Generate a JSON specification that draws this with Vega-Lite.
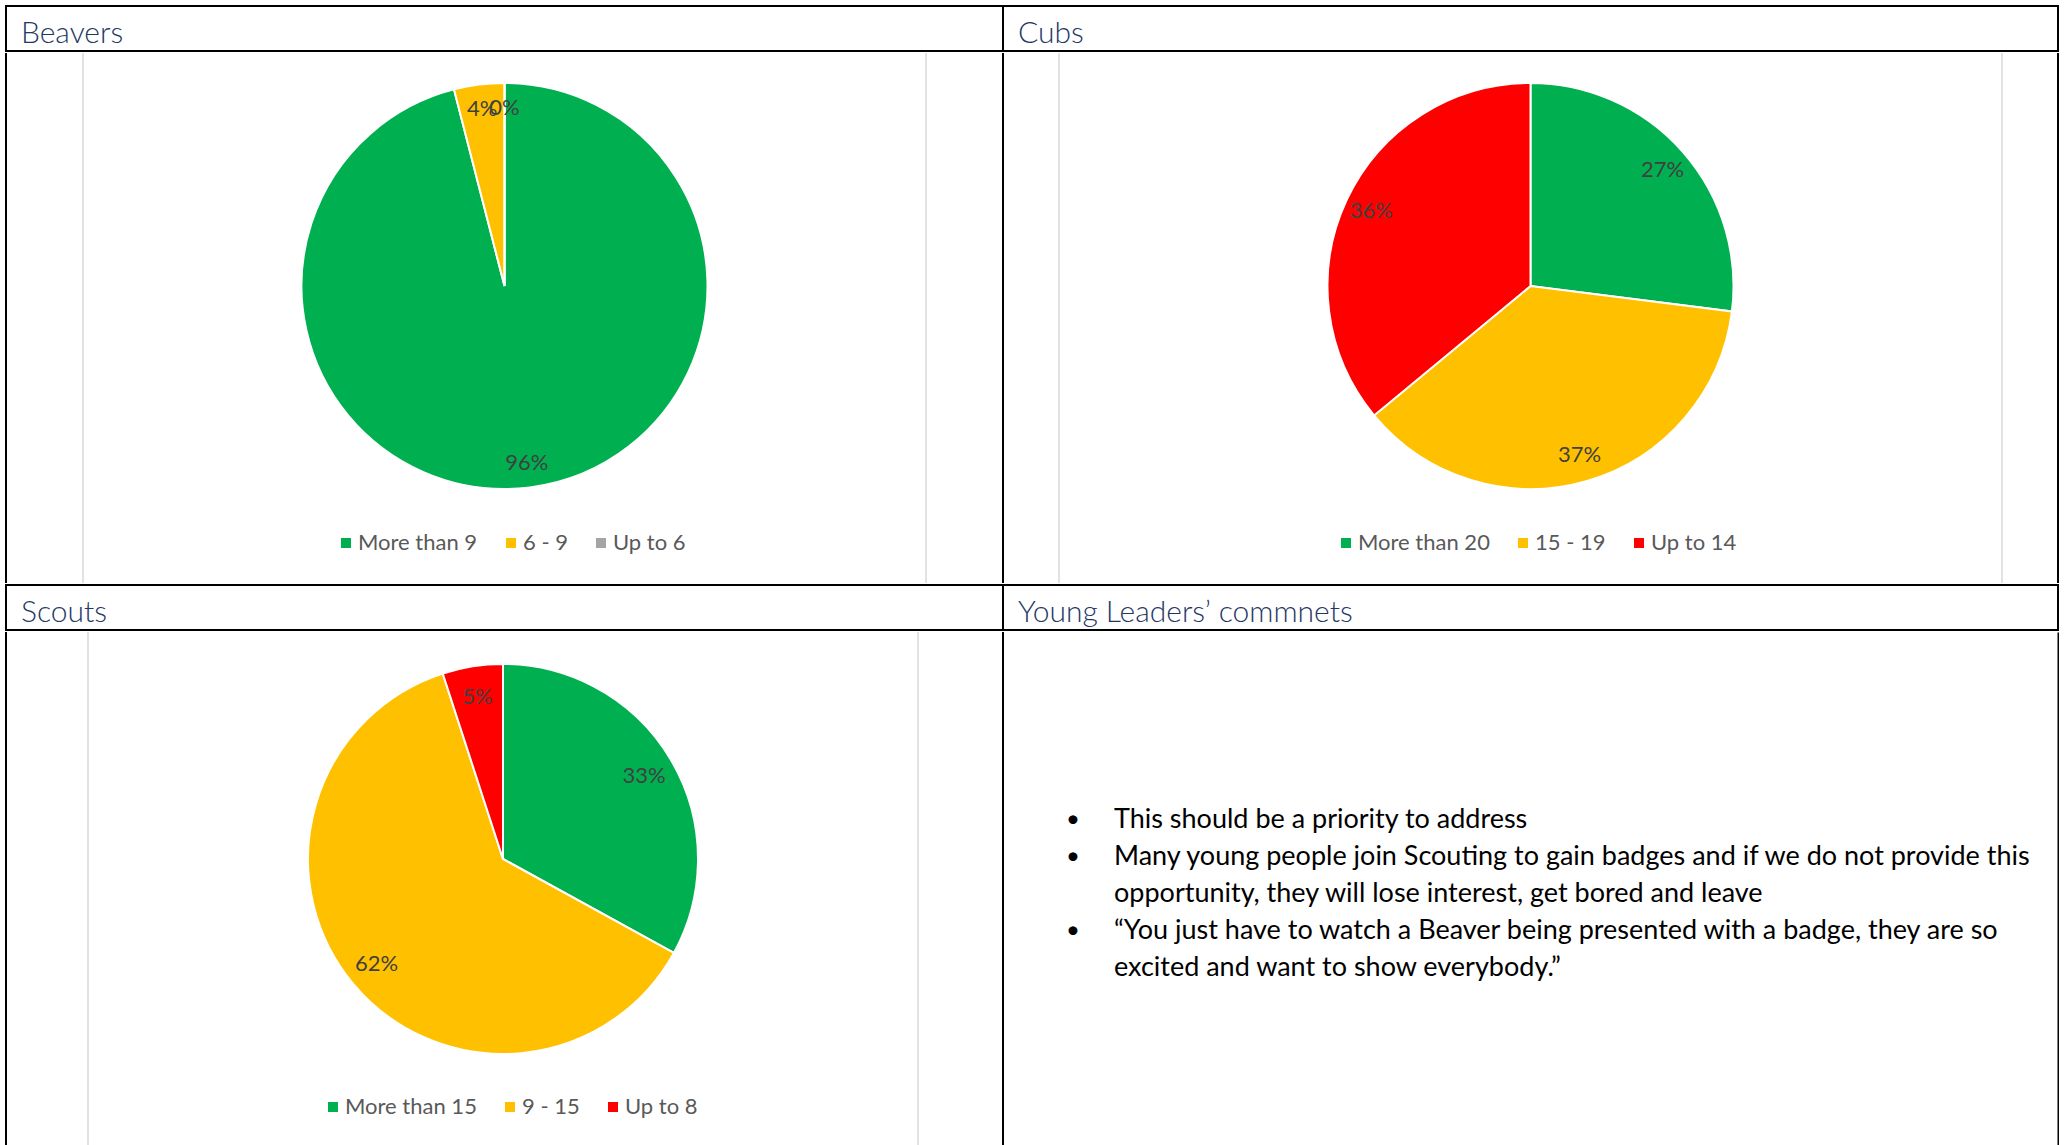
{
  "$schema": "https://vega.github.io/schema/vega-lite/v6.json",
  "padding": {"left": 5, "top": 5, "right": 0, "bottom": 0},
  "background": "#ffffff",
  "spacing": 0,
  "resolve": {"scale": {"color": "independent"}, "legend": {"color": "independent"}},
  "config": {
    "view": {"stroke": null},
    "font": "Lato",
    "legend": {"orient": "none", "direction": "horizontal", "title": null, "symbolType": "square", "symbolSize": 100, "symbolStrokeWidth": 0, "labelFontSize": 22, "labelColor": "#595959", "labelFont": "Lato", "columnPadding": 22, "labelOffset": 1, "padding": 0}
  },
  "vconcat": [
    {
      "hconcat": [
        {
          "width": 997, "height": 45,
          "view": {"stroke": "#000000", "strokeWidth": 2},
          "data": {"values": [{"header": "Beavers"}]},
          "mark": {"type": "text", "align": "left", "baseline": "middle", "dx": 15, "dy": 5, "fontWeight": 300, "fontSize": 30, "color": "#1F3864"},
          "encoding": {
            "x": {"field": "header", "type": "nominal", "scale": {"type": "point", "padding": 0, "align": 0}, "axis": null},
            "text": {"field": "header"}
          }
        },
        {
          "width": 1055, "height": 45,
          "view": {"stroke": "#000000", "strokeWidth": 2},
          "data": {"values": [{"header": "Cubs"}]},
          "mark": {"type": "text", "align": "left", "baseline": "middle", "dx": 15, "dy": 5, "fontWeight": 300, "fontSize": 30, "color": "#1F3864"},
          "encoding": {
            "x": {"field": "header", "type": "nominal", "scale": {"type": "point", "padding": 0, "align": 0}, "axis": null},
            "text": {"field": "header"}
          }
        }
      ],
      "spacing": 0, "bounds": "flush"
    },
    {
      "hconcat": [
        {
          "width": 77, "height": 530,
          "data": {"values": [{"edge": "outer"}, {"edge": "inner"}]},
          "mark": {"type": "rule"},
          "encoding": {
            "x": {"field": "edge", "type": "nominal", "sort": ["outer", "inner"], "scale": {"type": "point", "padding": 0}, "axis": null},
            "stroke": {"field": "edge", "type": "nominal", "scale": {"domain": ["outer", "inner"], "range": ["#000000", "#D9D9D9"]}, "legend": null},
            "strokeWidth": {"field": "edge", "type": "nominal", "scale": {"domain": ["outer", "inner"], "range": [2, 1.5]}, "legend": null}
          }
        },
        {
          "width": 843, "height": 466,
          "data": {"values": [
            {"band": "More than 9", "share": 0.96, "rank": 1},
            {"band": "6 - 9", "share": 0.04, "rank": 2},
            {"band": "Up to 6", "share": 0.0, "rank": 3}
          ]},
          "encoding": {
            "theta": {"field": "share", "type": "quantitative", "stack": true},
            "order": {"field": "rank"}
          },
          "layer": [
            {
              "mark": {"type": "arc", "outerRadius": 203, "stroke": "#ffffff", "strokeWidth": 2},
              "encoding": {
                "color": {"field": "band", "type": "nominal",
                  "scale": {"domain": ["More than 9", "6 - 9", "Up to 6"], "range": ["#00B050", "#FFC000", "#A5A5A5"]},
                  "legend": {"legendX": 252, "legendY": 479}}
              }
            },
            {
              "mark": {"type": "text", "radius": 178, "fontSize": 22, "color": "#404040"},
              "encoding": {"text": {"field": "share", "type": "quantitative", "format": ".0%"}}
            }
          ]
        },
        {
          "width": 77, "height": 530,
          "data": {"values": [{"edge": "inner"}, {"edge": "outer"}]},
          "mark": {"type": "rule"},
          "encoding": {
            "x": {"field": "edge", "type": "nominal", "sort": ["inner", "outer"], "scale": {"type": "point", "padding": 0}, "axis": null},
            "stroke": {"field": "edge", "type": "nominal", "scale": {"domain": ["outer", "inner"], "range": ["#000000", "#D9D9D9"]}, "legend": null},
            "strokeWidth": {"field": "edge", "type": "nominal", "scale": {"domain": ["outer", "inner"], "range": [2, 1.5]}, "legend": null}
          }
        },
        {
          "width": 56, "height": 530,
          "data": {"values": [{"edge": "outer"}, {"edge": "inner"}]},
          "mark": {"type": "rule"},
          "encoding": {
            "x": {"field": "edge", "type": "nominal", "sort": ["outer", "inner"], "scale": {"type": "point", "padding": 0}, "axis": null},
            "stroke": {"field": "edge", "type": "nominal", "scale": {"domain": ["outer", "inner"], "range": ["#000000", "#D9D9D9"]}, "legend": null},
            "strokeWidth": {"field": "edge", "type": "nominal", "scale": {"domain": ["outer", "inner"], "range": [2, 1.5]}, "legend": null}
          }
        },
        {
          "width": 943, "height": 466,
          "data": {"values": [
            {"band": "More than 20", "share": 0.27, "rank": 1},
            {"band": "15 - 19", "share": 0.37, "rank": 2},
            {"band": "Up to 14", "share": 0.36, "rank": 3}
          ]},
          "encoding": {
            "theta": {"field": "share", "type": "quantitative", "stack": true},
            "order": {"field": "rank"}
          },
          "layer": [
            {
              "mark": {"type": "arc", "outerRadius": 203, "stroke": "#ffffff", "strokeWidth": 2},
              "encoding": {
                "color": {"field": "band", "type": "nominal",
                  "scale": {"domain": ["More than 20", "15 - 19", "Up to 14"], "range": ["#00B050", "#FFC000", "#FF0000"]},
                  "legend": {"legendX": 276, "legendY": 479}}
              }
            },
            {
              "mark": {"type": "text", "radius": 176, "fontSize": 22, "color": "#404040"},
              "encoding": {"text": {"field": "share", "type": "quantitative", "format": ".0%"}}
            }
          ]
        },
        {
          "width": 56, "height": 530,
          "data": {"values": [{"edge": "inner"}, {"edge": "outer"}]},
          "mark": {"type": "rule"},
          "encoding": {
            "x": {"field": "edge", "type": "nominal", "sort": ["inner", "outer"], "scale": {"type": "point", "padding": 0}, "axis": null},
            "stroke": {"field": "edge", "type": "nominal", "scale": {"domain": ["outer", "inner"], "range": ["#000000", "#D9D9D9"]}, "legend": null},
            "strokeWidth": {"field": "edge", "type": "nominal", "scale": {"domain": ["outer", "inner"], "range": [2, 1.5]}, "legend": null}
          }
        }
      ],
      "spacing": 0, "bounds": "flush",
      "resolve": {"scale": {"color": "independent"}, "legend": {"color": "independent"}}
    },
    {
      "hconcat": [
        {
          "width": 997, "height": 45,
          "view": {"stroke": "#000000", "strokeWidth": 2},
          "data": {"values": [{"header": "Scouts"}]},
          "mark": {"type": "text", "align": "left", "baseline": "middle", "dx": 15, "dy": 5, "fontWeight": 300, "fontSize": 30, "color": "#1F3864"},
          "encoding": {
            "x": {"field": "header", "type": "nominal", "scale": {"type": "point", "padding": 0, "align": 0}, "axis": null},
            "text": {"field": "header"}
          }
        },
        {
          "width": 1055, "height": 45,
          "view": {"stroke": "#000000", "strokeWidth": 2},
          "data": {"values": [{"header": "Young Leaders’ commnets"}]},
          "mark": {"type": "text", "align": "left", "baseline": "middle", "dx": 15, "dy": 5, "fontWeight": 300, "fontSize": 30, "color": "#1F3864"},
          "encoding": {
            "x": {"field": "header", "type": "nominal", "scale": {"type": "point", "padding": 0, "align": 0}, "axis": null},
            "text": {"field": "header"}
          }
        }
      ],
      "spacing": 0, "bounds": "flush"
    },
    {
      "hconcat": [
        {
          "width": 82, "height": 514,
          "data": {"values": [{"edge": "outer"}, {"edge": "inner"}]},
          "mark": {"type": "rule"},
          "encoding": {
            "x": {"field": "edge", "type": "nominal", "sort": ["outer", "inner"], "scale": {"type": "point", "padding": 0}, "axis": null},
            "stroke": {"field": "edge", "type": "nominal", "scale": {"domain": ["outer", "inner"], "range": ["#000000", "#D9D9D9"]}, "legend": null},
            "strokeWidth": {"field": "edge", "type": "nominal", "scale": {"domain": ["outer", "inner"], "range": [2, 1.5]}, "legend": null}
          }
        },
        {
          "width": 830, "height": 454,
          "data": {"values": [
            {"band": "More than 15", "share": 0.33, "rank": 1},
            {"band": "9 - 15", "share": 0.62, "rank": 2},
            {"band": "Up to 8", "share": 0.05, "rank": 3}
          ]},
          "encoding": {
            "theta": {"field": "share", "type": "quantitative", "stack": true},
            "order": {"field": "rank"}
          },
          "layer": [
            {
              "mark": {"type": "arc", "outerRadius": 195, "stroke": "#ffffff", "strokeWidth": 2},
              "encoding": {
                "color": {"field": "band", "type": "nominal",
                  "scale": {"domain": ["More than 15", "9 - 15", "Up to 8"], "range": ["#00B050", "#FFC000", "#FF0000"]},
                  "legend": {"legendX": 234, "legendY": 464}}
              }
            },
            {
              "mark": {"type": "text", "radius": 164, "fontSize": 22, "color": "#404040"},
              "encoding": {"text": {"field": "share", "type": "quantitative", "format": ".0%"}}
            }
          ]
        },
        {
          "width": 85, "height": 514,
          "data": {"values": [{"edge": "inner"}, {"edge": "outer"}]},
          "mark": {"type": "rule"},
          "encoding": {
            "x": {"field": "edge", "type": "nominal", "sort": ["inner", "outer"], "scale": {"type": "point", "padding": 0}, "axis": null},
            "stroke": {"field": "edge", "type": "nominal", "scale": {"domain": ["outer", "inner"], "range": ["#000000", "#D9D9D9"]}, "legend": null},
            "strokeWidth": {"field": "edge", "type": "nominal", "scale": {"domain": ["outer", "inner"], "range": [2, 1.5]}, "legend": null}
          }
        },
        {
          "width": 1055, "height": 514,
          "data": {"values": [
            {"section": "comments", "line": 1, "bullet": "•", "text": "This should be a priority to address"},
            {"section": "comments", "line": 2, "bullet": "•", "text": "Many young people join Scouting to gain badges and if we do not provide this"},
            {"section": "comments", "line": 3, "bullet": "", "text": "opportunity, they will lose interest, get bored and leave"},
            {"section": "comments", "line": 4, "bullet": "•", "text": "“You just have to watch a Beaver being presented with a badge, they are so"},
            {"section": "comments", "line": 5, "bullet": "", "text": "excited and want to show everybody.”"}
          ]},
          "encoding": {
            "x": {"field": "section", "type": "nominal", "scale": {"type": "point", "padding": 0, "align": 0}, "axis": null},
            "y": {"field": "line", "type": "quantitative", "scale": {"domain": [-4.08, 9.81], "reverse": true, "nice": false, "zero": false},
              "axis": {"orient": "right", "domainColor": "#000000", "domainWidth": 2, "domainCap": "butt", "ticks": false, "labels": false, "grid": false, "title": null}}
          },
          "layer": [
            {
              "mark": {"type": "text", "align": "center", "baseline": "middle", "dx": 70, "fontSize": 24, "color": "#000000"},
              "encoding": {"text": {"field": "bullet"}}
            },
            {
              "mark": {"type": "text", "align": "left", "baseline": "middle", "dx": 111, "fontSize": 27, "color": "#000000"},
              "encoding": {"text": {"field": "text"}}
            }
          ]
        }
      ],
      "spacing": 0, "bounds": "flush",
      "resolve": {"scale": {"color": "independent"}, "legend": {"color": "independent"}}
    }
  ]
}
